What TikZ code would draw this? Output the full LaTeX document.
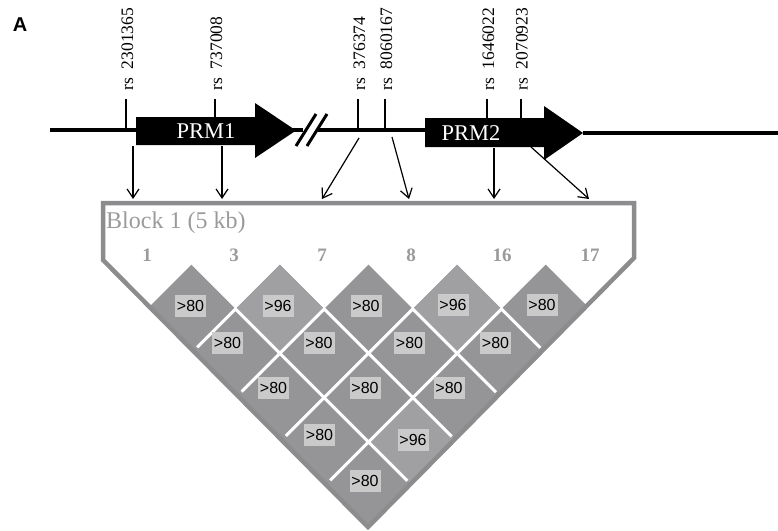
\documentclass[tikz,border=0pt]{standalone}
\usepackage{fontspec}
\setmainfont{Liberation Serif}
\newfontfamily\labelfont{Liberation Sans}
\usepackage{xcolor}
\usepackage{tikz}
\usetikzlibrary{arrows.meta}
\definecolor{ldgray}{HTML}{959597}
\definecolor{ldlight}{HTML}{A0A0A3}
\definecolor{rimgray}{HTML}{8C8C8E}
\definecolor{tagfill}{HTML}{CACACA}
\definecolor{txtgray}{HTML}{9A9A9A}
\tikzset{
  chrom/.style   ={line width=4pt,draw=black},
  gene/.style    ={fill=black},
  genename/.style={text=white,inner sep=0pt,font=\fontsize{22.5}{24}\selectfont},
  slash/.style   ={line width=3pt,draw=black},
  snptick/.style ={line width=1.2pt,draw=black},
  rsid/.style    ={rotate=90,anchor=west,inner sep=0pt,font=\fontsize{17.5}{19}\selectfont},
  snp/.style     ={text=txtgray,inner sep=0pt,font=\bfseries\fontsize{19}{21}\selectfont},
  ldtag/.style   ={fill=tagfill,inner sep=0pt,minimum width=31pt,minimum height=22pt,
                   font=\labelfont\fontsize{16}{18}\selectfont},
  ldsep/.style   ={line width=3pt,draw=white},
  rim/.style     ={line width=4.5pt,draw=rimgray,line join=miter},
  snpmap/.style  ={-{Straight Barb[length=9pt,width=12pt]},line width=1.2pt,draw=black}
}

\begin{document}
\begin{tikzpicture}[x=1pt,y=-1pt]
  \useasboundingbox (0,0) rectangle (778,530);
  \node[font=\labelfont\bfseries\fontsize{20}{22}\selectfont] (panel) at (20,25) {A};

  % chromosome with the two genes
  \draw[chrom] (50,130) -- (303,130);
  \draw[chrom,line width=3.5pt] (318,130) -- (426,130);
  \draw[chrom] (583,133) -- (778,133);
  \draw[slash] (296,146) -- (316,114);
  \draw[slash] (307,146) -- (327,114);
  \fill[gene] (136,117) -- (255,117) -- (255,103) -- (296,130.5) -- (255,158) -- (255,145) -- (136,145) -- cycle;
  \fill[gene] (425,118) -- (544,118) -- (544,106) -- (583,133) -- (544,160) -- (544,147) -- (425,147) -- cycle;
  \node[genename] (prm1) at (206,131) {PRM1};
  \node[genename] (prm2) at (471,133) {PRM2};

  % SNP positions
  \draw[snptick] (126,99) -- (126,130);
  \draw[snptick] (215,99) -- (215,117);
  \draw[snptick] (358,99) -- (358,130);
  \draw[snptick] (385,99) -- (385,130);
  \draw[snptick] (487,99) -- (487,118);
  \draw[snptick] (521,99) -- (521,118);
  \node[rsid] (rs2301365) at (127.5,91) {rs\hspace{9pt}2301365};
  \node[rsid] (rs737008)  at (216.5,91) {rs\hspace{9pt}737008};
  \node[rsid] (rs376374)  at (359.5,91) {rs\hspace{9pt}376374};
  \node[rsid] (rs8060167) at (386.5,91) {rs\hspace{9pt}8060167};
  \node[rsid] (rs1646022) at (488.5,91) {rs\hspace{9pt}1646022};
  \node[rsid] (rs2070923) at (522,91)   {rs\hspace{9pt}2070923};

  \coordinate (g1) at (133,146); \coordinate (m1) at (133,199);
  \coordinate (g2) at (222,146); \coordinate (m2) at (222,199);
  \coordinate (g3) at (359,138); \coordinate (m3) at (322,199);
  \coordinate (g4) at (392,137); \coordinate (m4) at (409,199);
  \coordinate (g5) at (494,148); \coordinate (m5) at (494,199);
  \coordinate (g6) at (531,147); \coordinate (m6) at (589,199);
  \draw[snpmap] (g1) -- (m1);
  \draw[snpmap] (g2) -- (m2);
  \draw[snpmap] (g3) -- (m3);
  \draw[snpmap] (g4) -- (m4);
  \draw[snpmap] (g5) -- (m5);
  \draw[snpmap] (g6) -- (m6);

  % LD block
  \begin{scope}
    \clip (103,203) -- (634,203) -- (634,258) -- (368,527) -- (103,260) -- cycle;
    \fill[ldgray] (147,309) -- (191.3,264.7) -- (235.6,309) -- (279.9,264.7) -- (324.2,309)
      -- (368.5,264.7) -- (412.8,309) -- (457.1,264.7) -- (501.4,309) -- (545.7,264.7)
      -- (590,309) -- (368.5,530.5) -- cycle;
    \fill[ldlight] (279.9,264.7) -- ++(44.3,44.3) -- ++(-44.3,44.3) -- ++(-44.3,-44.3) -- cycle;
    \fill[ldlight] (457.1,264.7) -- ++(44.3,44.3) -- ++(-44.3,44.3) -- ++(-44.3,-44.3) -- cycle;
    \fill[ldlight] (412.8,397.6) -- ++(44.3,44.3) -- ++(-44.3,44.3) -- ++(-44.3,-44.3) -- cycle;
    \foreach \p in {235.6,324.2,412.8,501.4}
      \draw[ldsep] ({\p-(\p-159)/2},{309+(\p-159)/2}) -- (\p,309) -- ({\p+(579-\p)/2},{309+(579-\p)/2});
  \end{scope}
  \draw[rim] (103,203) -- (634,203) -- (634,258) -- (368,527) -- (103,260) -- cycle;

  \node[anchor=west,text=txtgray,inner sep=0pt,font=\fontsize{24}{26}\selectfont] (block) at (106,223) {Block 1 (5 kb)};
  \node[snp] (s1)  at (147,255) {1};
  \node[snp] (s3)  at (234,255) {3};
  \node[snp] (s7)  at (322,255) {7};
  \node[snp] (s8)  at (411,255) {8};
  \node[snp] (s16) at (502,255) {16};
  \node[snp] (s17) at (590,255) {17};

  \node[ldtag] (ld1-3)   at (190.5,306) {>80};
  \node[ldtag] (ld3-7)   at (278,306)   {>96};
  \node[ldtag] (ld7-8)   at (366,306)   {>80};
  \node[ldtag] (ld8-16)  at (453,305)   {>96};
  \node[ldtag] (ld16-17) at (542,305)   {>80};
  \node[ldtag] (ld1-7)   at (227.5,343) {>80};
  \node[ldtag] (ld3-8)   at (319,343)   {>80};
  \node[ldtag] (ld7-16)  at (409.5,343) {>80};
  \node[ldtag] (ld8-17)  at (495.5,343) {>80};
  \node[ldtag] (ld1-8)   at (273.5,388) {>80};
  \node[ldtag] (ld3-16)  at (365,388)   {>80};
  \node[ldtag] (ld7-17)  at (449,388)   {>80};
  \node[ldtag] (ld1-16)  at (319.5,435) {>80};
  \node[ldtag] (ld3-17)  at (413,439.5) {>96};
  \node[ldtag] (ld1-17)  at (365,481)   {>80};
\end{tikzpicture}
\end{document}
